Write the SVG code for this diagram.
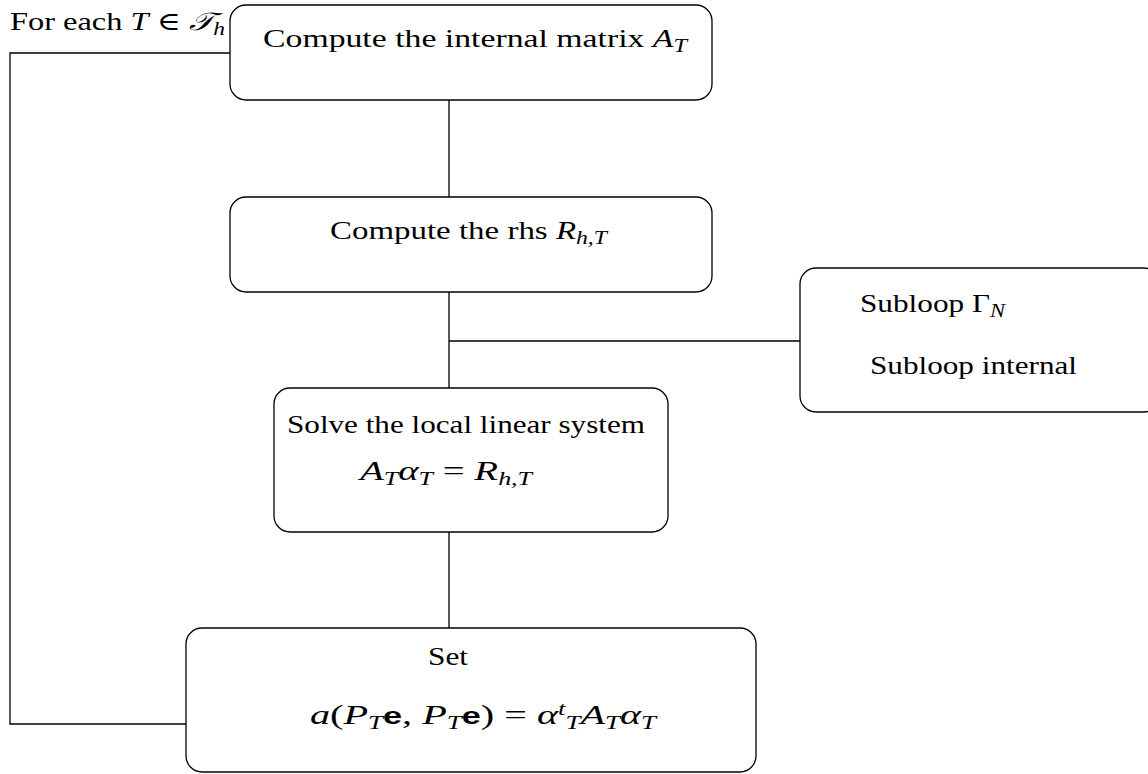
<svg xmlns="http://www.w3.org/2000/svg" width="1148" height="774" viewBox="0 0 1148 774">
<style>
.box{fill:#fff;stroke:#000;stroke-width:1.3}
.ln{fill:none;stroke:#000;stroke-width:1.3}
text{font-family:"Liberation Serif","DejaVu Serif",serif;font-size:25px;fill:#000}
.m{font-size:27px}
.i{font-style:italic}
.s{font-size:18px;font-style:italic}
.b{font-family:"Liberation Sans",sans-serif;font-weight:bold;font-size:23px}
</style>
<g id="connectors">
<path class="ln" d="M449 100V197M449 292V388M449 532V628M449 341H800M230 53H10V724H186"/>
</g>
<g id="label-loop">
<text x="10" y="30" textLength="215" lengthAdjust="spacingAndGlyphs">For each <tspan class="i">T</tspan> ∈ <tspan class="i">𝒯</tspan><tspan class="s" dy="5">h</tspan></text>
</g>
<g id="n1">
<rect class="box" x="230" y="5" width="482" height="95" rx="16"/>
<text x="263" y="47" textLength="424" lengthAdjust="spacingAndGlyphs">Compute the internal matrix <tspan class="i">A</tspan><tspan class="s" dy="5">T</tspan></text>
</g>
<g id="n2">
<rect class="box" x="230" y="197" width="482" height="95" rx="16"/>
<text x="330" y="239" textLength="277" lengthAdjust="spacingAndGlyphs">Compute the rhs <tspan class="i">R</tspan><tspan class="s" dy="5">h,T</tspan></text>
</g>
<g id="n3">
<rect class="box" x="800" y="268" width="360" height="144" rx="16"/>
<text x="860" y="312" textLength="145" lengthAdjust="spacingAndGlyphs">Subloop Γ<tspan class="s" dy="5">N</tspan></text>
<text x="870" y="374" textLength="207" lengthAdjust="spacingAndGlyphs">Subloop internal</text>
</g>
<g id="n4">
<rect class="box" x="274" y="388" width="394" height="144" rx="16"/>
<text x="287" y="433" textLength="358" lengthAdjust="spacingAndGlyphs">Solve the local linear system</text>
<text class="m" x="360" y="480" textLength="172" lengthAdjust="spacingAndGlyphs"><tspan class="i">A</tspan><tspan class="s" dy="5">T</tspan><tspan class="i" dy="-5">α</tspan><tspan class="s" dy="5">T</tspan><tspan dy="-5"> = </tspan><tspan class="i">R</tspan><tspan class="s" dy="5">h,T</tspan></text>
</g>
<g id="n5">
<rect class="box" x="186" y="628" width="570" height="144" rx="16"/>
<text x="428" y="665" textLength="40" lengthAdjust="spacingAndGlyphs">Set</text>
<text class="m" x="310" y="724" textLength="346" lengthAdjust="spacingAndGlyphs"><tspan class="i">a</tspan>(<tspan class="i">P</tspan><tspan class="s" dy="5">T</tspan><tspan class="b" dy="-5">e</tspan>, <tspan class="i">P</tspan><tspan class="s" dy="5">T</tspan><tspan class="b" dy="-5">e</tspan>) = <tspan class="i">α</tspan><tspan class="s" dy="-9">t</tspan><tspan class="s" dy="14">T</tspan><tspan class="i" dy="-5">A</tspan><tspan class="s" dy="5">T</tspan><tspan class="i" dy="-5">α</tspan><tspan class="s" dy="5">T</tspan></text>
</g>
</svg>
